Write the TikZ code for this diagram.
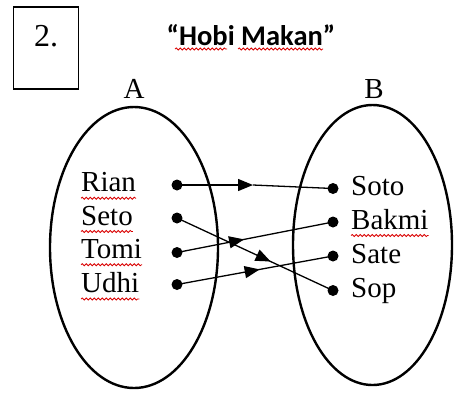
\documentclass[tikz,border=0pt]{standalone}
\usepackage{fontspec}
\setmainfont{Liberation Serif}
\newfontfamily\titlefont{Carlito}
\usetikzlibrary{arrows.meta,decorations.markings,decorations.pathmorphing,shapes.geometric}
\tikzset{
  setoval/.style={draw, line width=2.4pt, ellipse, inner sep=0pt},
  elem/.style={inner sep=0pt, font=\fontsize{29}{32}\selectfont},
  setname/.style={inner sep=0pt, font=\fontsize{29}{32}\selectfont},
  dotpt/.style={circle, fill=black, inner sep=0pt, minimum size=11pt},
  mapline/.style={line width=1.3pt},
  midarrow/.style={mapline, postaction={decorate}, decoration={markings,
     mark=at position #1 with {\arrow{Triangle[length=15pt,width=12pt]}}}},
  endarrow/.style={mapline, -{Triangle[length=15pt,width=12pt]}, shorten >=0pt},
  squiggle/.style={red!85!black, line width=0.8pt, decorate,
     decoration={snake, amplitude=1pt, segment length=4pt}},
}
\begin{document}
\begin{tikzpicture}[x=1pt,y=-1pt]
\useasboundingbox (0,0) rectangle (454,392);
% numbered box
\node[draw, line width=1.8pt, minimum width=65pt, minimum height=82pt, inner sep=0pt] (box) at (46,48) {};
\node[inner sep=0pt, anchor=base, font=\fontsize{32}{36}\selectfont] (num) at (46,46.7) {2.};
% title
\node[inner sep=0pt, anchor=base, font=\titlefont\bfseries\fontsize{28.5}{32}\selectfont] (title) at (251,45) {“Hobi Makan”};
\coordinate (hobiL) at (175,49); \coordinate (hobiR) at (227,49);
\coordinate (makL) at (238,49); \coordinate (makR) at (323,49);
\draw[squiggle] (hobiL) -- (hobiR);
\draw[squiggle] (makL) -- (makR);
% sets
\node[setoval, minimum width=168pt, minimum height=281pt] (setA) at (134,247.5) {};
\node[setoval, minimum width=159pt, minimum height=280pt] (setB) at (372.5,245) {};
\node[setname, anchor=base] (lblA) at (134,98) {A};
\node[setname, anchor=base] (lblB) at (374,98) {B};
% left elements
\node[elem, anchor=base west] (rian) at (81,191.7) {Rian};
\node[elem, anchor=base west] (seto) at (81,225) {Seto};
\node[elem, anchor=base west] (tomi) at (81,258.2) {Tomi};
\node[elem, anchor=base west] (udhi) at (81,292.5) {Udhi};
% right elements
\node[elem, anchor=base west] (soto) at (351,195) {Soto};
\node[elem, anchor=base west] (bakmi) at (351,229) {Bakmi};
\node[elem, anchor=base west] (sate) at (351,263) {Sate};
\node[elem, anchor=base west] (sop) at (351,297) {Sop};
% spell-check squiggles
\draw[squiggle] ([yshift=-6.5pt]rian.base west) -- ([yshift=-6.5pt]rian.base east);
\draw[squiggle] ([yshift=-6.5pt]seto.base west) -- ([yshift=-6.5pt]seto.base east);
\draw[squiggle] ([yshift=-6.5pt]tomi.base west) -- ([yshift=-6.5pt]tomi.base east);
\draw[squiggle] ([yshift=-6.5pt]udhi.base west) -- ([yshift=-6.5pt]udhi.base east);
\draw[squiggle] ([yshift=-6.5pt]bakmi.base west) -- ([yshift=-6.5pt]bakmi.base east);
% dots
\node[dotpt] (dr) at (177,185) {};
\node[dotpt] (ds) at (177,218) {};
\node[dotpt] (dt) at (177,252.5) {};
\node[dotpt] (du) at (177,284.5) {};
\node[dotpt] (ek) at (333,188.5) {};
\node[dotpt] (eb) at (333,222) {};
\node[dotpt] (ea) at (333,256) {};
\node[dotpt] (ep) at (333,290.5) {};
% mappings
\coordinate (rmid) at (253,185);
\draw[endarrow] (dr.center) -- (rmid);
\draw[mapline] (rmid) -- (ek.center);
\draw[midarrow=0.6] (ds.center) -- (ep.center);
\draw[midarrow=0.43] (dt.center) -- (eb.center);
\draw[midarrow=0.53] (du.center) -- (ea.center);
\end{tikzpicture}
\end{document}
